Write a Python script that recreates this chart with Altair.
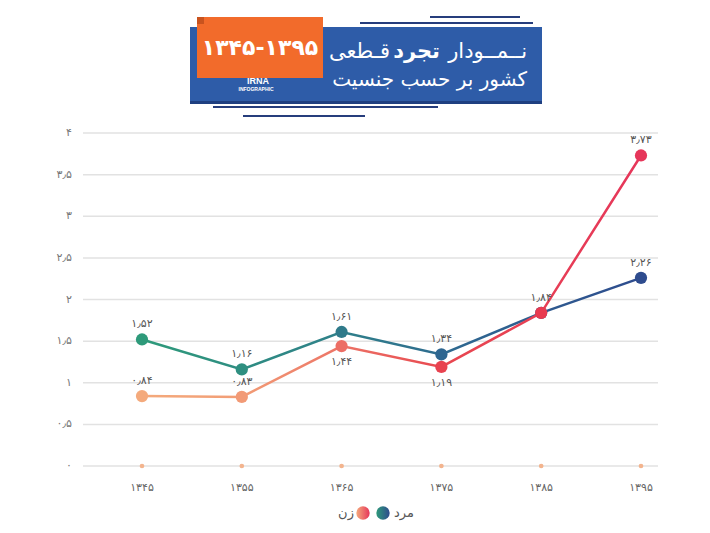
import altair as alt
import pandas as pd

# ---- data ----
years = [1345, 1355, 1365, 1375, 1385, 1395]
men = [1.52, 1.16, 1.61, 1.34, 1.84, 2.26]
women = [0.84, 0.83, 1.44, 1.19, 1.84, 3.73]
women_label_pos = ["above", "above", "below", "below", "none", "above"]
y_ticks = [0, 0.5, 1, 1.5, 2, 2.5, 3, 3.5, 4]

title_1a = "نــمــودار"
title_1b = "تجرد"
title_1c = "قـطعی"
title_2 = "کشور بر حسب جنسیت"
range_text = "۱۳۴۵-۱۳۹۵"
legend_men = "مرد"
legend_women = "زن"

FA = str.maketrans("0123456789.", "۰۱۲۳۴۵۶۷۸۹٫")


def fa(s):
    return str(s).translate(FA)


FONT = "DejaVu Sans"
W, H = 694, 517

X = alt.Scale(domain=[1345, 1395], range=[134, 633], nice=False, zero=False)
Y = alt.Scale(domain=[0, 4], range=[458, 125], nice=False, zero=False)

men_df = pd.DataFrame({"year": years, "v": men, "lab": [fa(f"{v:.2f}") for v in men]})
women_df = pd.DataFrame({"year": years, "v": women,
                         "lab": [fa(f"{v:.2f}") for v in women],
                         "pos": women_label_pos})
tick_df = pd.DataFrame({"t": y_ticks, "lab": [fa(f"{t:g}") for t in y_ticks]})
year_df = pd.DataFrame({"year": years, "lab": [fa(y) for y in years], "zero": [0] * len(years)})
one = pd.DataFrame({"a": [0]})


def grad(colors, offsets):
    return alt.LinearGradient(
        gradient="linear", x1=0, x2=1, y1=0, y2=0,
        stops=[alt.GradientStop(offset=o, color=c) for c, o in zip(colors, offsets)])


men_grad = grad(["#2e9a7a", "#2f808a", "#2e6690", "#2e4c8e"], [0, 0.4, 0.65, 1])
women_grad = grad(["#f4aa7c", "#f29d76", "#ec7366", "#e8474f", "#e6365a"], [0, 0.2, 0.4, 0.6, 1])
men_leg_grad = grad(["#2e9a7a", "#2e4c8e"], [0, 1])
women_leg_grad = grad(["#f4aa7c", "#e6365a"], [0, 1])

# grid and axis labels
grid = alt.Chart(tick_df).mark_rule(color="#e2e2e2", strokeWidth=1.5).encode(
    y=alt.Y("t:Q", scale=Y, axis=None), x=alt.value(75), x2=alt.value(650))
ylabels = alt.Chart(tick_df).mark_text(align="right", baseline="middle", font=FONT,
                                        fontSize=11, color="#777777").encode(
    y=alt.Y("t:Q", scale=Y, axis=None), x=alt.value(64), text="lab:N")
xlabels = alt.Chart(year_df).mark_text(align="center", baseline="middle", font=FONT,
                                        fontSize=11, color="#666666").encode(
    x=alt.X("year:Q", scale=X, axis=None), y=alt.value(480), text="lab:N")
base_dots = alt.Chart(year_df).mark_circle(size=22, color="#f3b48e", opacity=1).encode(
    x=alt.X("year:Q", scale=X, axis=None), y=alt.Y("zero:Q", scale=Y, axis=None))

# series
men_line = alt.Chart(men_df).mark_line(stroke=men_grad, strokeWidth=2.5).encode(
    x=alt.X("year:Q", scale=X, axis=None), y=alt.Y("v:Q", scale=Y, axis=None))
women_line = alt.Chart(women_df).mark_line(stroke=women_grad, strokeWidth=2.5).encode(
    x=alt.X("year:Q", scale=X, axis=None), y=alt.Y("v:Q", scale=Y, axis=None))
men_pts = alt.Chart(men_df).mark_circle(size=150, opacity=1).encode(
    x=alt.X("year:Q", scale=X, axis=None), y=alt.Y("v:Q", scale=Y, axis=None),
    color=alt.Color("year:Q", legend=None,
                    scale=alt.Scale(domain=years,
                                    range=["#2e9a7a", "#2f8f80", "#2f7a8a", "#2e6690", "#2e5a90", "#2e4c8e"])))
women_pts = alt.Chart(women_df).mark_circle(size=150, opacity=1).encode(
    x=alt.X("year:Q", scale=X, axis=None), y=alt.Y("v:Q", scale=Y, axis=None),
    fill=alt.Fill("year:Q", legend=None,
                  scale=alt.Scale(domain=years,
                                  range=["#f4aa7c", "#f29a76", "#ec6e65", "#e8424f", "#e83a50", "#e6365a"])))
men_lab = alt.Chart(men_df).mark_text(dy=-15, font=FONT, fontSize=11, color="#555555").encode(
    x=alt.X("year:Q", scale=X, axis=None), y=alt.Y("v:Q", scale=Y, axis=None), text="lab:N")
women_lab_up = alt.Chart(women_df).transform_filter(alt.datum.pos == "above").mark_text(
    dy=-15, font=FONT, fontSize=11, color="#555555").encode(
    x=alt.X("year:Q", scale=X, axis=None), y=alt.Y("v:Q", scale=Y, axis=None), text="lab:N")
women_lab_dn = alt.Chart(women_df).transform_filter(alt.datum.pos == "below").mark_text(
    dy=16, font=FONT, fontSize=11, color="#555555").encode(
    x=alt.X("year:Q", scale=X, axis=None), y=alt.Y("v:Q", scale=Y, axis=None), text="lab:N")


# header decoration
def rect(x1, x2, y1, y2, color):
    return alt.Chart(one).mark_rect(color=color).encode(
        x=alt.value(x1), x2=alt.value(x2), y=alt.value(y1), y2=alt.value(y2))


def hline(x1, x2, y, color="#263d7c", w=2):
    return alt.Chart(one).mark_rule(color=color, strokeWidth=w).encode(
        x=alt.value(x1), x2=alt.value(x2), y=alt.value(y))


def txt(s, x, y, size, color="white", weight="normal", align="center", font=FONT):
    return alt.Chart(one).mark_text(text=s, align=align, baseline="middle", font=font,
                                    fontSize=size, fontWeight=weight, color=color).encode(
        x=alt.value(x), y=alt.value(y))


header = [
    rect(182, 534, 19, 95, "#2e5ca8"),
    rect(182, 534, 93, 96, "#1f3f80"),
    rect(189, 315, 9, 70, "#f26b2b"),
    rect(189, 196, 9, 16, "#c9531e"),
    hline(422, 512, 9),
    hline(352, 525, 15),
    hline(205, 430, 99),
    hline(235, 357, 108),
    txt(range_text, 252, 40, 22, weight="bold"),
    txt("IRNA", 250, 73, 9, weight="bold", font="Liberation Sans"),
    txt("INFOGRAPHIC", 248, 81, 5, weight="bold", font="Liberation Sans"),
    txt(title_1a, 519, 44, 21, align="right"),
    txt(title_1b, 432, 44, 21, weight="bold", align="right"),
    txt(title_1c, 382, 44, 21, align="right"),
    txt(title_2, 519, 72, 20, align="right"),
]

legend = [
    txt(legend_women, 338, 505, 13, color="#555555"),
    alt.Chart(one).mark_circle(size=180, opacity=1, fill=women_leg_grad).encode(
        x=alt.value(355), y=alt.value(505)),
    alt.Chart(one).mark_circle(size=180, opacity=1, fill=men_leg_grad).encode(
        x=alt.value(375), y=alt.value(505)),
    txt(legend_men, 396, 505, 13, color="#555555"),
]

chart = alt.layer(
    grid, ylabels, xlabels, base_dots,
    men_line, men_pts, women_line, women_pts,
    men_lab, women_lab_up, women_lab_dn,
    *header, *legend
).resolve_scale(color="independent", fill="independent").properties(
    width=W, height=H, padding=0, background="white"
).configure_view(stroke=None)

chart.save("out.html", embed_options={"renderer": "svg", "actions": False})
